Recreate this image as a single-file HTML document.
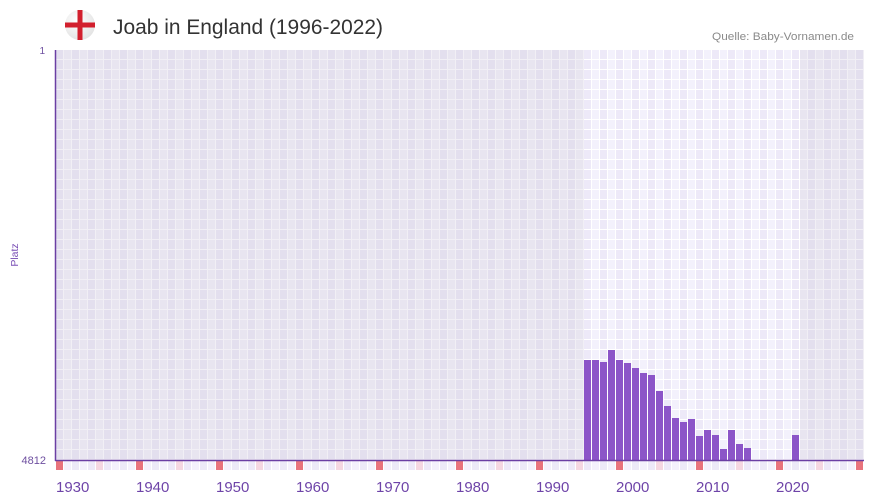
<!DOCTYPE html>
<html><head><meta charset="utf-8">
<style>
html,body{margin:0;padding:0;background:#fff;}
svg{display:block;}
text{font-family:"Liberation Sans",sans-serif;}
</style></head>
<body>
<svg width="873" height="502" viewBox="0 0 873 502" xmlns="http://www.w3.org/2000/svg">
<defs>
<pattern id="gA" patternUnits="userSpaceOnUse" x="56" y="50" width="16" height="10">
<rect x="0" y="0" width="16" height="10" fill="#f1eff5"/>
<rect x="0" y="0" width="7" height="9" fill="#e3dfee"/>
<rect x="8" y="0" width="7" height="9" fill="#e8e5f0"/>
</pattern>
<pattern id="gB" patternUnits="userSpaceOnUse" x="56" y="50" width="16" height="10">
<rect x="0" y="0" width="16" height="10" fill="#ffffff"/>
<rect x="0" y="0" width="7" height="9" fill="#ede9f8"/>
<rect x="8" y="0" width="7" height="9" fill="#f3f1fc"/>
</pattern>
<pattern id="gC" patternUnits="userSpaceOnUse" x="56" y="461" width="80" height="10">
<rect x="0" y="0" width="80" height="10" fill="#ffffff"/>
<rect x="0" y="0" width="7" height="9" fill="#e8737c"/>
<rect x="8" y="0" width="7" height="9" fill="#f4f1fc"/>
<rect x="16" y="0" width="7" height="9" fill="#ede9f8"/>
<rect x="24" y="0" width="7" height="9" fill="#f4f1fc"/>
<rect x="32" y="0" width="7" height="9" fill="#ede9f8"/>
<rect x="40" y="0" width="7" height="9" fill="#f5d7e1"/>
<rect x="48" y="0" width="7" height="9" fill="#ede9f8"/>
<rect x="56" y="0" width="7" height="9" fill="#f4f1fc"/>
<rect x="64" y="0" width="7" height="9" fill="#ede9f8"/>
<rect x="72" y="0" width="7" height="9" fill="#f4f1fc"/>
</pattern>
<radialGradient id="fl" cx="0.4" cy="0.35" r="0.7">
<stop offset="0" stop-color="#ffffff"/>
<stop offset="1" stop-color="#e2e2e2"/>
</radialGradient>
</defs>

<!-- flag -->
<circle cx="80" cy="25" r="15" fill="url(#fl)"/>
<rect x="77.5" y="10" width="5" height="30" fill="#d21f2d"/>
<rect x="65" y="22.5" width="30" height="5" fill="#d21f2d"/>

<text x="113" y="34" font-size="21" fill="#333" textLength="270" lengthAdjust="spacingAndGlyphs">Joab in England (1996-2022)</text>
<text x="854" y="40" font-size="11" fill="#8a8a8a" text-anchor="end" textLength="142" lengthAdjust="spacingAndGlyphs">Quelle: Baby-Vornamen.de</text>

<!-- plot background -->
<rect x="56" y="50" width="808" height="410" fill="url(#gA)"/>
<rect x="584" y="50" width="216" height="410" fill="url(#gB)"/>
<rect x="56" y="461" width="808" height="9" fill="url(#gC)"/>

<!-- bars -->
<g fill="#8c55c8">
<rect x="584" y="360" width="7" height="100"/>
<rect x="592" y="360" width="7" height="100"/>
<rect x="600" y="362" width="7" height="98"/>
<rect x="608" y="350" width="7" height="110"/>
<rect x="616" y="360" width="7" height="100"/>
<rect x="624" y="363" width="7" height="97"/>
<rect x="632" y="368" width="7" height="92"/>
<rect x="640" y="373" width="7" height="87"/>
<rect x="648" y="375" width="7" height="85"/>
<rect x="656" y="391" width="7" height="69"/>
<rect x="664" y="406" width="7" height="54"/>
<rect x="672" y="418" width="7" height="42"/>
<rect x="680" y="422" width="7" height="38"/>
<rect x="688" y="419" width="7" height="41"/>
<rect x="696" y="436" width="7" height="24"/>
<rect x="704" y="430" width="7" height="30"/>
<rect x="712" y="435" width="7" height="25"/>
<rect x="720" y="449" width="7" height="11"/>
<rect x="728" y="430" width="7" height="30"/>
<rect x="736" y="444" width="7" height="16"/>
<rect x="744" y="448" width="7" height="12"/>
<rect x="792" y="435" width="7" height="25"/>
</g>

<!-- axes -->
<line x1="55.5" y1="50" x2="55.5" y2="461" stroke="#6b3fa3" stroke-width="1.5"/>
<line x1="55" y1="460.5" x2="864" y2="460.5" stroke="#6b3fa3" stroke-width="1.5"/>

<!-- y labels -->
<text x="45" y="54" font-size="10" fill="#6e4fa0" text-anchor="end">1</text>
<text x="46" y="464" font-size="11" fill="#6e4fa0" text-anchor="end">4812</text>
<text transform="translate(18,255) rotate(-90)" font-size="10.5" fill="#7a4fb5" text-anchor="middle">Platz</text>

<!-- x labels -->
<g font-size="15" fill="#6e44a8">
<text x="56" y="492">1930</text>
<text x="136" y="492">1940</text>
<text x="216" y="492">1950</text>
<text x="296" y="492">1960</text>
<text x="376" y="492">1970</text>
<text x="456" y="492">1980</text>
<text x="536" y="492">1990</text>
<text x="616" y="492">2000</text>
<text x="696" y="492">2010</text>
<text x="776" y="492">2020</text>
</g>
</svg>
</body></html>
